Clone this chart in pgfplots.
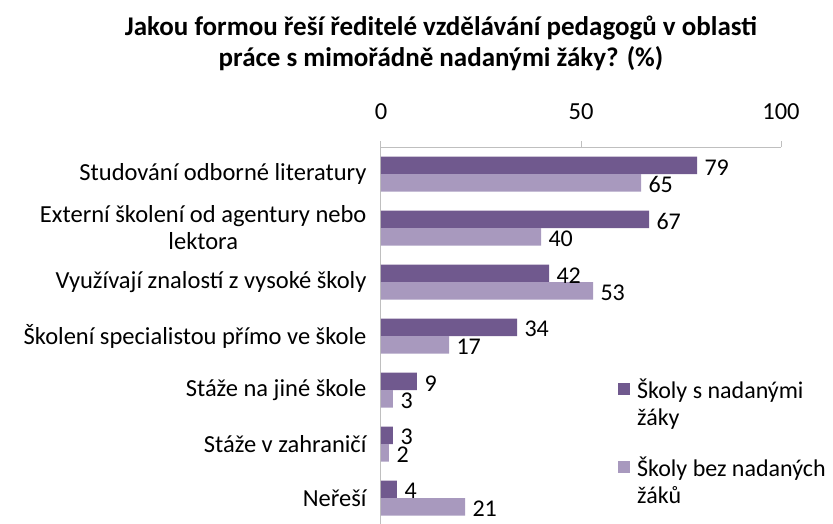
\documentclass[border=0pt]{standalone}
\usepackage{fontspec}
\setmainfont{Carlito}
\usepackage{pgfplots}
\pgfplotsset{compat=1.18}
\definecolor{darkp}{HTML}{70598E}
\definecolor{lightp}{HTML}{A899BE}
\definecolor{axgray}{HTML}{BFBFBF}
\begin{document}
\begin{tikzpicture}[x=1pt,y=1pt]
\path[use as bounding box] (0,0) rectangle (833,524);
\node[align=center,font=\fontsize{27}{31}\selectfont\bfseries] at (441,481)
  {Jakou formou řeší ředitelé vzdělávání pedagogů v oblasti\\práce s mimořádně nadanými žáky? (\%)};
\begin{axis}[
  at={(381pt,-1pt)}, anchor=south west,
  scale only axis, width=400pt, height=378pt,
  xbar, y dir=reverse,
  bar width=17.5pt,
  xmin=0, xmax=100, ymin=-0.5, ymax=6.5,
  axis x line*=top, axis y line*=left,
  axis line style={draw=axgray, line width=1pt},
  xtick={0,50,100},
  tick align=outside,
  major tick length=6pt,
  x tick style={draw=axgray, line width=1pt},
  ytick={0,1,2,3,4,5,6},
  y tick style={draw=none},
  extra y ticks={-0.5,0.5,1.5,2.5,3.5,4.5,5.5,6.5},
  extra y tick labels={},
  extra y tick style={tick style={draw=axgray, line width=1pt}},
  yticklabels={Studování odborné literatury, {Externí školení od agentury nebo\\lektora}, Využívají znalostí z vysoké školy, Školení specialistou přímo ve škole, Stáže na jiné škole, Stáže v zahraničí, Neřeší},
  yticklabel style={align=center, xshift=-5pt},
  /pgf/number format/assume math mode=true,
  ticklabel style={font=\fontsize{24.5}{27}\selectfont},
  xticklabel style={yshift=18pt},
  nodes near coords,
  every node near coord/.append style={font=\fontsize{24}{27}\selectfont, text=black, anchor=west, xshift=4pt, yshift=-2pt, /pgf/number format/assume math mode=true},
  legend style={draw=none, at={(0.585,0.398)}, anchor=north west, font=\fontsize{24}{27}\selectfont, row sep=26pt, cells={anchor=west, align=left}},
  legend cell align=left,
  clip=false,
]
\addplot[fill=darkp, draw=none, bar shift=8.75pt, legend image code/.code={\fill[darkp] (0pt,7.5pt) rectangle (12pt,19.5pt);}] coordinates {(79,0) (67,1) (42,2) (34,3) (9,4) (3,5) (4,6)};
\addlegendentry{\hspace{5pt}Školy s nadanými\\\hspace{5pt}žáky}
\addplot[fill=lightp, draw=none, bar shift=-8.75pt, legend image code/.code={\fill[lightp] (0pt,7.5pt) rectangle (12pt,19.5pt);}] coordinates {(65,0) (40,1) (53,2) (17,3) (3,4) (2,5) (21,6)};
\addlegendentry{\hspace{5pt}Školy bez nadaných\\\hspace{5pt}žáků}
\end{axis}
\end{tikzpicture}
\end{document}
